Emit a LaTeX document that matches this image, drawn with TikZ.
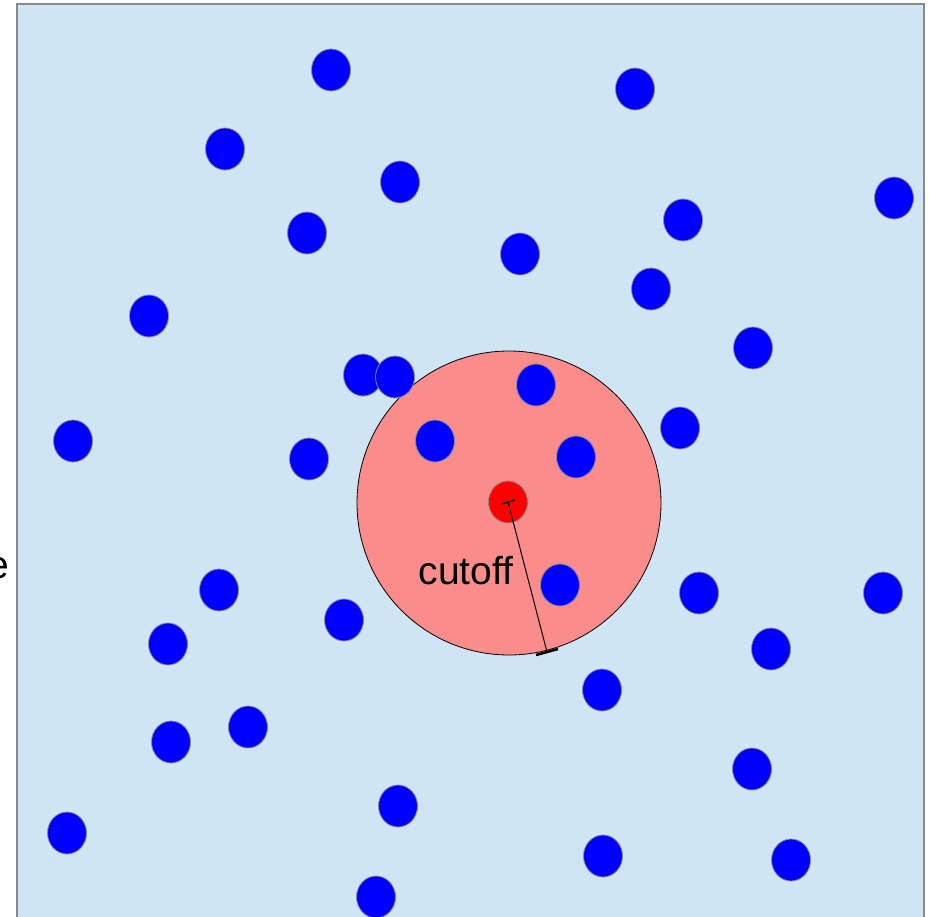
\documentclass[tikz,border=0pt]{standalone}
\usepackage{fontspec}
\setmainfont{Liberation Sans}
\usetikzlibrary{shapes.geometric,calc}
\definecolor{bgblue}{HTML}{CFE5F3}
\definecolor{pinkc}{HTML}{FA8C8C}
\definecolor{edgegray}{HTML}{8A8A8A}
\tikzset{
  dot/.style={ellipse, draw=edgegray, line width=0.8pt, fill=blue, minimum width=39pt, minimum height=42pt, inner sep=0pt},
  reddot/.style={dot, fill=red},
  lbl/.style={font=\fontsize{39}{45}\selectfont, inner sep=0pt}
}
\begin{document}
\begin{tikzpicture}[x=1pt,y=-1pt]
\useasboundingbox (0,0) rectangle (929,916);
\begin{scope}
\clip (0,0) rectangle (929,916);
\draw[edgegray, line width=1.5pt, fill=bgblue] (17,4) rectangle (924,940);
\node[circle, draw=black, line width=0.8pt, fill=pinkc, minimum size=304pt, inner sep=0pt] (zone) at (509,503) {};
\foreach \n/\x/\y in {d1/331/70, d2/635/89, d3/225/149, d4/400/182, d5/894/198, d6/683/220,
  d7/307/233, d8/520/254, d9/651/289, d10/149/316, d11/753/348, d12/363/375, d13/395/377,
  d14/536/385, d15/680/428, d16/73/441, d17/435/441, d18/309/459, d19/576/457,
  d21/219/590, d22/560/585, d23/699/593, d24/883/593, d25/344/620, d26/168/644, d27/771/649,
  d28/602/690, d29/248/727, d30/171/742, d31/752/769, d32/398/806, d33/67/833, d34/603/856,
  d35/791/860, d36/376/897}
  {\node[dot] (\n) at (\x,\y) {};}
\node[reddot] (red) at (508,502) {};
\coordinate (rim) at (547,652);
\draw[line width=1pt] (red.center) -- (rim);
\draw[line width=1.5pt] ($(red.center)+(-7,2)$) -- ($(red.center)+(7,-2)$);
\draw[line width=2.5pt] ($(rim)+(-11,3)$) -- ($(rim)+(11,-3)$);
\node[lbl] (cut) at (466,571) {cutoff};
\node[lbl, anchor=east] (elabel) at (9,568) {e};
\end{scope}
\end{tikzpicture}
\end{document}
